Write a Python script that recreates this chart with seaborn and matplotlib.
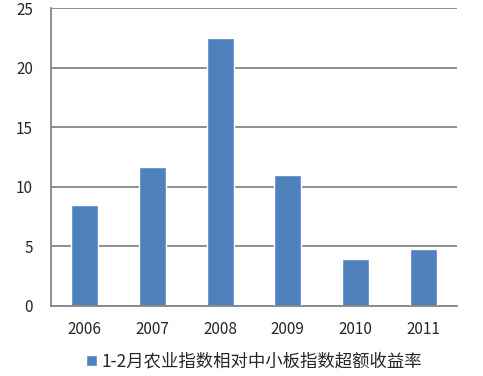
import matplotlib
matplotlib.use('Agg')
import matplotlib.pyplot as plt
import numpy as np
import pandas as pd
import seaborn as sns

# Dataset: excess return of agriculture index vs SME board index, Jan-Feb
years = ['2006', '2007', '2008', '2009', '2010', '2011']
excess = [8.45, 11.65, 22.45, 10.95, 3.95, 4.75]
series_name = '1-2月农业指数相对中小板指数超额收益率'

df = pd.DataFrame({'year': years, 'value': excess})

sns.set_style('white')
plt.rcParams['font.family'] = ['Noto Sans CJK SC', 'DejaVu Sans']

fig = plt.figure(figsize=(4.83, 3.76), dpi=100)
ax = fig.add_axes([0.1056, 0.1862, 0.8404, 0.7925])

sns.barplot(data=df, x='year', y='value', color='#4F81BD', width=0.4,
            saturation=1, ax=ax, label=series_name)

grid_c = '#868686'
ax.set_ylim(0, 25)
ax.set_xlim(-0.5, len(years) - 0.5)
ax.set_yticks(np.arange(0, 26, 5))
ax.yaxis.grid(True, color=grid_c, linewidth=1.3)
ax.set_axisbelow(True)
for s in ['top', 'right']:
    ax.spines[s].set_visible(False)
for s in ['left', 'bottom']:
    ax.spines[s].set_color(grid_c)
    ax.spines[s].set_linewidth(1.3)

ax.set_xticks(np.arange(-0.5, len(years)), minor=True)
ax.tick_params(axis='x', which='major', length=0, pad=11, labelsize=11)
ax.tick_params(axis='x', which='minor', length=5, width=1.3, color=grid_c, direction='out')
ax.tick_params(axis='y', length=5, width=1.3, color=grid_c, direction='out', labelsize=11, pad=8)
ax.set_xlabel('')
ax.set_ylabel('')

ax.legend(loc='upper center', bbox_to_anchor=(0.5, -0.105), frameon=False,
          fontsize=12.5, handlelength=0.6, handleheight=0.6, handletextpad=0.25)

fig.savefig('out.png', dpi=100)
